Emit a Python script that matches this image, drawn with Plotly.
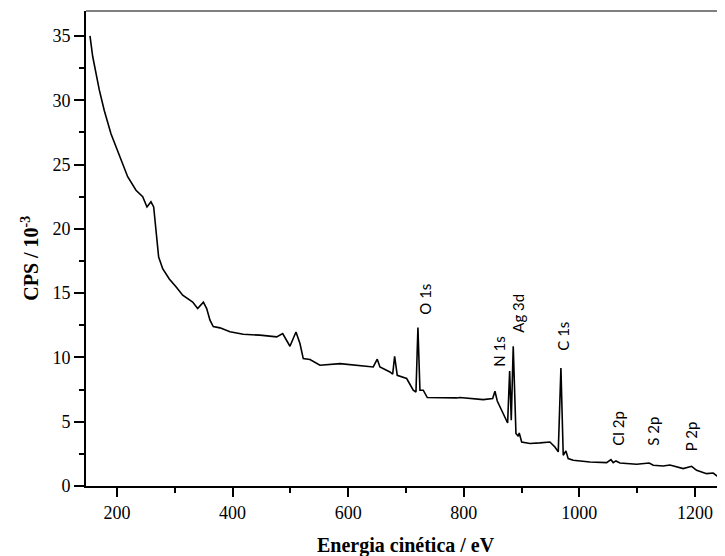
import plotly.graph_objects as go

# Kinetic energy (eV) and counts (CPS / 10^-3)
energy = [153.3, 158.0, 169.4, 178.0, 189.6, 201.2, 218.5, 232.9, 244.5, 251.9,
          258.8, 263.5, 267.5, 272.1, 279.1, 290.5, 302.1, 313.7, 331.0, 339.6,
          349.5, 355.2, 360.9, 366.6, 378.2, 395.5, 418.5, 447.4, 476.3, 486.7,
          499.3, 509.7, 516.6, 522.3, 533.9, 551.2, 585.8, 632.0, 643.4, 650.3,
          655.0, 672.3, 677.0, 680.4, 684.9, 701.2, 712.6, 717.3, 720.7, 724.2,
          729.9, 736.9, 758.8, 787.7, 793.4, 833.7, 850.0, 854.0, 858.0, 868.3,
          875.9, 879.4, 882.2, 885.6, 890.3, 894.3, 896.0, 900.2, 914.5, 931.8,
          949.1, 957.7, 963.5, 968.1, 972.1, 976.8, 980.7, 989.4, 1018.3, 1047.2,
          1054.6, 1058.6, 1063.3, 1070.2, 1099.1, 1120.9, 1127.8, 1145.1, 1156.7, 1179.7,
          1194.2, 1202.9, 1220.2, 1231.6, 1240.3, 1246.2, 1249.0]
cps = [35.0, 33.4, 30.8, 29.2, 27.4, 26.0, 24.05, 23.0, 22.5, 21.7,
       22.1, 21.7, 19.9, 17.8, 16.9, 16.1, 15.5, 14.84, 14.3, 13.8,
       14.3, 13.8, 12.9, 12.4, 12.3, 12.0, 11.8, 11.73, 11.6, 11.86,
       10.87, 11.98, 11.08, 9.91, 9.84, 9.39, 9.52, 9.34, 9.26, 9.86,
       9.26, 8.87, 8.69, 10.09, 8.61, 8.36, 7.45, 7.31, 12.33, 7.45,
       7.45, 6.88, 6.85, 6.85, 6.88, 6.72, 6.80, 7.37, 6.61, 5.63,
       4.90, 8.95, 5.11, 10.87, 4.08, 3.87, 4.12, 3.42, 3.30, 3.35,
       3.42, 3.03, 2.65, 9.18, 2.39, 2.72, 2.13, 2.0, 1.87, 1.82,
       2.05, 1.82, 1.95, 1.79, 1.69, 1.79, 1.61, 1.56, 1.63, 1.35,
       1.53, 1.22, 0.96, 1.01, 0.70, 1.61, 0.83]

peak_labels = ["O 1s", "N 1s", "Ag 3d", "C 1s", "Cl 2p", "S 2p", "P 2p"]
peak_x = [732.8, 860.9, 893.7, 971.6, 1066.7, 1127.3, 1193.0]
peak_y = [13.2, 9.16, 11.8, 10.4, 3.01, 3.01, 2.54]

x_ticks = [200, 400, 600, 800, 1000, 1200]
y_ticks = [0, 5, 10, 15, 20, 25, 30, 35]

fig = go.Figure()
fig.add_trace(go.Scatter(x=energy, y=cps, mode="lines",
                         line=dict(color="black", width=1.6), showlegend=False))

for lab, px, py in zip(peak_labels, peak_x, peak_y):
    fig.add_annotation(x=px, y=py, text=lab, textangle=-90, showarrow=False,
                       xanchor="center", yanchor="bottom",
                       font=dict(family="Lato, Open Sans, sans-serif", size=15, color="black"))

serif = "Liberation Serif, Times New Roman, serif"
fig.add_annotation(xref="paper", yref="paper", x=0.5, y=-0.125, yanchor="middle",
                   text="<b>Energia cinética / eV</b>", showarrow=False,
                   font=dict(family=serif, size=20, color="black"))
fig.add_annotation(xref="paper", yref="paper", x=-0.088, y=0.48, xanchor="center",
                   yanchor="middle", textangle=-90,
                   text="<b>CPS / 10<sup>-3</sup></b>", showarrow=False,
                   font=dict(family=serif, size=20, color="black"))

fig.add_shape(type="line", xref="paper", yref="paper", x0=0, x1=1, y0=1, y1=1,
              line=dict(color="#808080", width=2))

fig.update_layout(
    width=717, height=548,
    margin=dict(l=78, r=0, t=3, b=70),
    paper_bgcolor="white", plot_bgcolor="white",
    xaxis=dict(range=[146.4, 1252], tickvals=x_ticks, showgrid=False, zeroline=False,
               showline=True, linecolor="black", linewidth=2,
               ticks="outside", ticklen=9, tickwidth=2, tickcolor="black",
               minor=dict(dtick=100, tick0=0, ticks="outside", ticklen=5, tickwidth=2, tickcolor="black"),
               tickfont=dict(family=serif, size=18, color="black")),
    yaxis=dict(range=[0, 36.94], tickvals=y_ticks, showgrid=False, zeroline=False,
               showline=True, linecolor="black", linewidth=2,
               ticks="outside", ticklen=10, tickwidth=2, tickcolor="black",
               minor=dict(dtick=2.5, tick0=0, ticks="outside", ticklen=5, tickwidth=2, tickcolor="black"),
               tickfont=dict(family=serif, size=18, color="black")),
)

fig.write_html("out.html")
